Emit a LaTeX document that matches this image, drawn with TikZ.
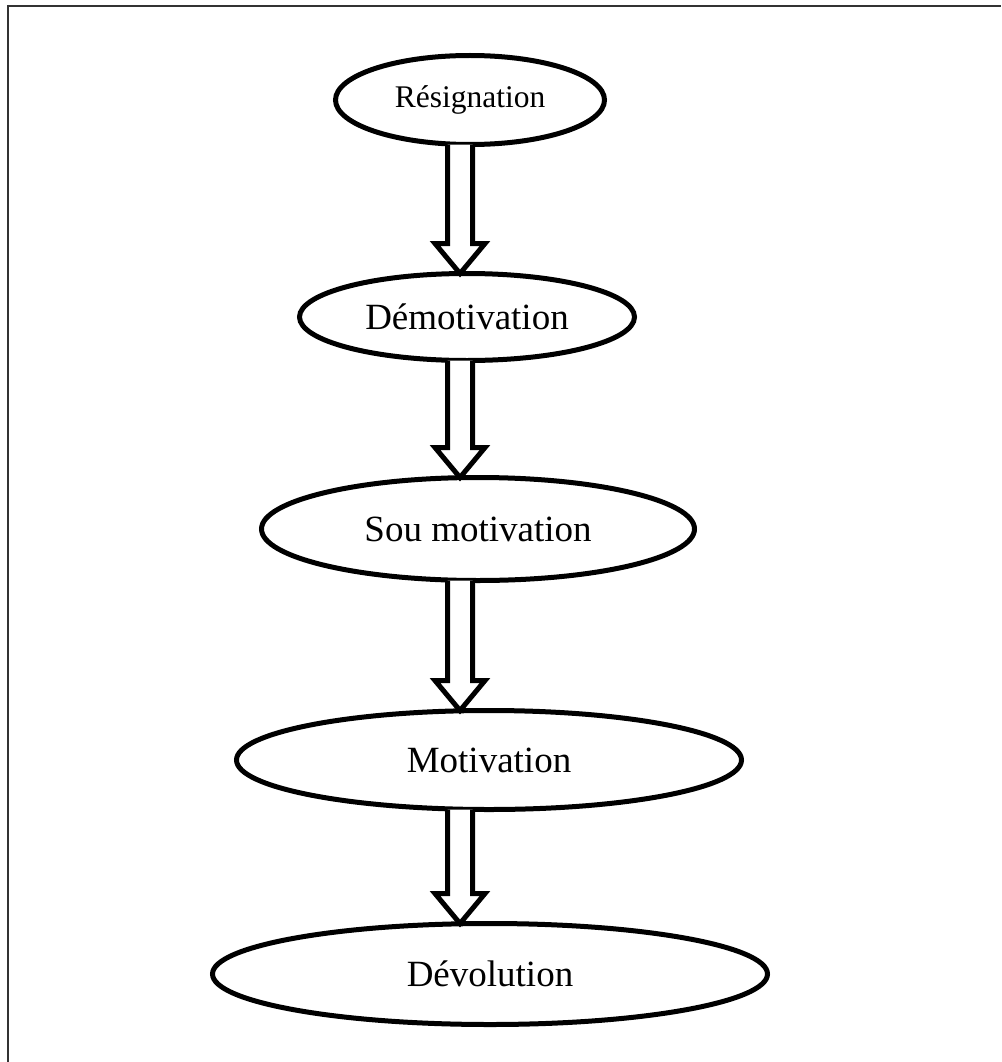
\documentclass[tikz,border=0pt]{standalone}
\usepackage{fontspec}
\setmainfont{Liberation Serif}
\usetikzlibrary{shapes.geometric,calc}

\tikzset{
  stage/.style={ellipse, draw=black, line width=5pt, fill=white,
    inner sep=0pt, outer sep=0pt, font=\fontsize{37}{44}\selectfont},
  frameline/.style={draw=black!80, line width=2pt},
  hollow/.style={draw=black, line width=5pt, fill=white, line join=miter}
}

% hollow block arrow from the bottom of #1 down to the top of #2, on the axis (ax)
\newcommand\hollowarrow[2]{%
  \draw[hollow] let \p1=(#1.south -| ax), \p2=(#2.north -| ax) in
    (\x2-12.5pt,\y1) -- (\x2-12.5pt,\y2+30pt) -- (\x2-25pt,\y2+30pt)
    -- (\p2) -- (\x2+25pt,\y2+30pt) -- (\x2+12.5pt,\y2+30pt)
    -- (\x2+12.5pt,\y1);%
}

\begin{document}
\begin{tikzpicture}[x=1pt,y=-1pt]
  \useasboundingbox (0,0) rectangle (1001,1062);

  % page frame: top and left rules
  \draw[frameline] (7,6) -- (1001,6);
  \draw[frameline] (8,5) -- (8,1062);

  \coordinate (ax) at (460,0);

  \node[stage, minimum width=269pt, minimum height=89pt,
        font=\fontsize{31.5}{38}\selectfont] (res) at (470,100) {Résignation};
  \node[stage, minimum width=335pt, minimum height=87pt] (demo) at (467,317) {Démotivation};
  \node[stage, minimum width=433pt, minimum height=103pt] (sou) at (478,529) {Sou motivation};
  \node[stage, minimum width=505pt, minimum height=99pt] (moti) at (489,760) {Motivation};
  \node[stage, minimum width=555pt, minimum height=101pt] (devo) at (490,974) {Dévolution};

  \hollowarrow{res}{demo}
  \hollowarrow{demo}{sou}
  \hollowarrow{sou}{moti}
  \hollowarrow{moti}{devo}
\end{tikzpicture}
\end{document}
